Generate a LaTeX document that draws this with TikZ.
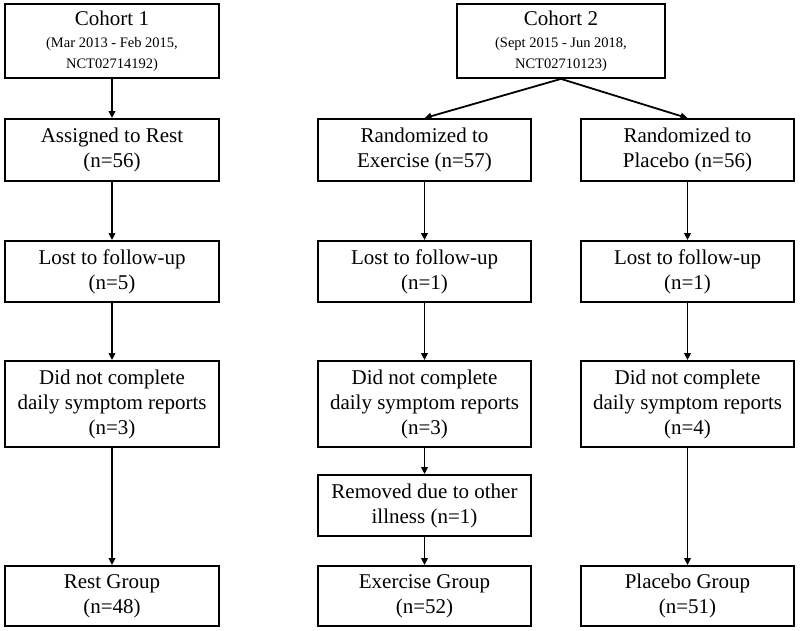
\documentclass[tikz,border=0pt]{standalone}
\usepackage{fontspec}
\setmainfont{Liberation Serif}
\usetikzlibrary{arrows.meta}
\tikzset{
  box/.style={draw, line width=1.8pt, align=center, inner sep=0pt,
    font=\fontsize{21}{25}\selectfont},
  arr/.style={line width=1.8pt, -{Triangle[length=7pt,width=6.5pt]}},
}
\newcommand{\smalltxt}{\fontsize{14.5}{18}\selectfont}
\begin{document}
\begin{tikzpicture}[x=1pt,y=-1pt]
\useasboundingbox (0,0) rectangle (800,631);
% Cohorts
\node[box, minimum width=214, minimum height=74] (c1) at (112,41)
  {Cohort 1\\[-3pt]{\smalltxt (Mar 2013 - Feb 2015,}\\[-4pt]{\smalltxt NCT02714192)}};
\node[box, minimum width=208, minimum height=74] (c2) at (561,41)
  {Cohort 2\\[-3pt]{\smalltxt (Sept 2015 - Jun 2018,}\\[-4pt]{\smalltxt NCT02710123)}};
% Row 2
\node[box, minimum width=214, minimum height=62] (r1) at (112,150) {Assigned to Rest\\(n=56)};
\node[box, minimum width=213, minimum height=62] (e1) at (424.5,150) {Randomized to\\Exercise (n=57)};
\node[box, minimum width=213, minimum height=62] (p1) at (687.5,150) {Randomized to\\Placebo (n=56)};
% Row 3
\node[box, minimum width=214, minimum height=61] (r2) at (112,271.5) {Lost to follow-up\\(n=5)};
\node[box, minimum width=213, minimum height=61] (e2) at (424.5,271.5) {Lost to follow-up\\(n=1)};
\node[box, minimum width=213, minimum height=61] (p2) at (687.5,271.5) {Lost to follow-up\\(n=1)};
% Row 4
\node[box, minimum width=214, minimum height=86] (r3) at (112,404) {Did not complete\\daily symptom reports\\(n=3)};
\node[box, minimum width=213, minimum height=86] (e3) at (424.5,404) {Did not complete\\daily symptom reports\\(n=3)};
\node[box, minimum width=213, minimum height=86] (p3) at (687.5,404) {Did not complete\\daily symptom reports\\(n=4)};
% Removed
\node[box, minimum width=213, minimum height=61] (e4) at (424.5,505.5) {Removed due to other\\illness (n=1)};
% Final
\node[box, minimum width=214, minimum height=60] (r5) at (112,596) {Rest Group\\(n=48)};
\node[box, minimum width=213, minimum height=60] (e5) at (424.5,596) {Exercise Group\\(n=52)};
\node[box, minimum width=213, minimum height=60] (p5) at (687.5,596) {Placebo Group\\(n=51)};
% Arrows
\draw[arr] (c1) -- (r1);
\draw[arr] (c2.south) -- (e1.north);
\draw[arr] (c2.south) -- (p1.north);
\draw[arr] (r1) -- (r2);
\draw[arr] (e1) -- (e2);
\draw[arr] (p1) -- (p2);
\draw[arr] (r2) -- (r3);
\draw[arr] (e2) -- (e3);
\draw[arr] (p2) -- (p3);
\draw[arr] (r3) -- (r5);
\draw[arr] (e3) -- (e4);
\draw[arr] (e4) -- (e5);
\draw[arr] (p3) -- (p5);
\end{tikzpicture}
\end{document}
